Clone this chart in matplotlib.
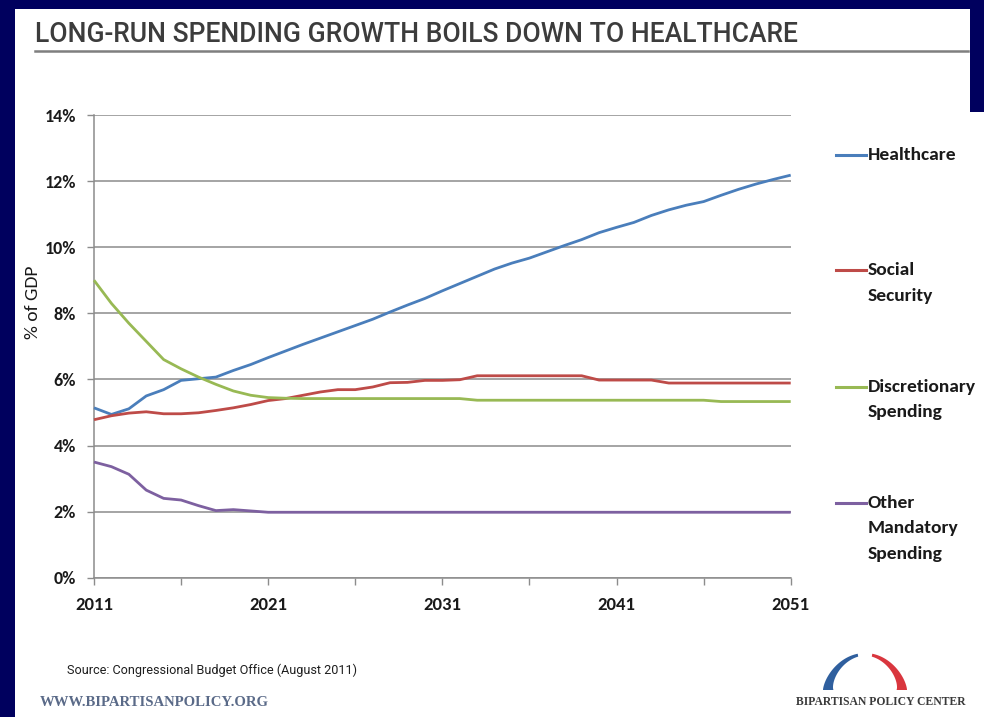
import matplotlib
matplotlib.use("Agg")
import matplotlib.pyplot as plt
from matplotlib.lines import Line2D
from matplotlib.patches import Rectangle, Polygon
from matplotlib import font_manager
import numpy as np

# ---- data (% of GDP) ----
years = list(range(2011, 2052))
healthcare = [5.14, 4.94, 5.11, 5.50, 5.69, 5.97, 6.02, 6.07, 6.27, 6.45,
              6.66, 6.86, 7.06, 7.25, 7.44, 7.63, 7.82, 8.04, 8.25, 8.45,
              8.68, 8.90, 9.12, 9.34, 9.52, 9.67, 9.86, 10.05, 10.23, 10.44,
              10.60, 10.75, 10.96, 11.13, 11.27, 11.38, 11.57, 11.75, 11.91, 12.05,
              12.18]
social_security = [4.78, 4.90, 4.98, 5.02, 4.96, 4.96, 4.99, 5.06, 5.14, 5.24,
                   5.36, 5.42, 5.52, 5.62, 5.69, 5.69, 5.77, 5.90, 5.91, 5.97,
                   5.97, 5.99, 6.11, 6.11, 6.11, 6.11, 6.11, 6.11, 6.11, 5.98,
                   5.98, 5.98, 5.98, 5.89, 5.89, 5.89, 5.89, 5.89, 5.89, 5.89,
                   5.89]
discretionary = [9.00, 8.30, 7.70, 7.15, 6.60, 6.32, 6.07, 5.85, 5.65, 5.52,
                 5.45, 5.43, 5.42, 5.42, 5.42, 5.42, 5.42, 5.42, 5.42, 5.42,
                 5.42, 5.42, 5.37, 5.37, 5.37, 5.37, 5.37, 5.37, 5.37, 5.37,
                 5.37, 5.37, 5.37, 5.37, 5.37, 5.37, 5.33, 5.33, 5.33, 5.33,
                 5.33]
other_mandatory = [3.50, 3.36, 3.13, 2.65, 2.40, 2.35, 2.18, 2.03, 2.06, 2.02,
                   1.98, 1.98, 1.98, 1.98, 1.98, 1.98, 1.98, 1.98, 1.98, 1.98,
                   1.98, 1.98, 1.98, 1.98, 1.98, 1.98, 1.98, 1.98, 1.98, 1.98,
                   1.98, 1.98, 1.98, 1.98, 1.98, 1.98, 1.98, 1.98, 1.98, 1.98,
                   1.98]

series = [healthcare, social_security, discretionary, other_mandatory]
series_names = ["Healthcare", "Social\nSecurity", "Discretionary\nSpending",
                "Other\nMandatory\nSpending"]
series_colors = ["#4A7EBB", "#BE4B48", "#98B954", "#7D60A0"]
y_ticks = [0, 2, 4, 6, 8, 10, 12, 14]
x_tick_labels = [2011, 2021, 2031, 2041, 2051]

title = "LONG-RUN SPENDING GROWTH BOILS DOWN TO HEALTHCARE"
source = "Source: Congressional Budget Office (August 2011)"


def pick(*names):
    for n in names:
        try:
            font_manager.findfont(font_manager.FontProperties(family=n),
                                  fallback_to_default=False)
            return n
        except Exception:
            continue
    return "DejaVu Sans"


BODY = pick("Carlito", "Lato", "Open Sans", "DejaVu Sans")
NARROW = pick("Liberation Sans Narrow", "Roboto", "Lato")
SERIF = pick("Liberation Serif", "DejaVu Serif")

W, H = 984, 717
fig = plt.figure(figsize=(W / 100, H / 100), dpi=100, facecolor="#00005E")


def fx(x):
    return x / W


def fy(y):
    return 1 - y / H


# white page behind everything (navy frame on the left, top and upper right)
fig.patches.append(Rectangle((fx(15), 0), (970 - 15) / W, (H - 9) / H,
                             transform=fig.transFigure, facecolor="white",
                             edgecolor="none", zorder=-5))
fig.patches.append(Rectangle((fx(969), 0), (W - 969) / W, (H - 112) / H,
                             transform=fig.transFigure, facecolor="white",
                             edgecolor="none", zorder=-5))

ax = fig.add_axes([fx(94), fy(577.7), (790.7 - 94) / W, (577.7 - 115) / H])
ax.set_facecolor("white")
ax.set_zorder(2)
ax.set_xlim(2011, 2051)
ax.set_ylim(0, 14)

for vals, col in zip(series, series_colors):
    ax.plot(years, vals, color=col, lw=2.0, solid_joinstyle="round",
            solid_capstyle="butt", zorder=3, clip_on=False)

ax.set_yticks(y_ticks)
ax.set_yticklabels([f"{v}%" for v in y_ticks], fontfamily=BODY,
                   fontweight="bold", fontsize=13, color="#1a1a1a")
xt = list(range(2011, 2052, 5))
ax.set_xticks(xt)
ax.set_xticklabels([str(v) if v in x_tick_labels else "" for v in xt],
                   fontfamily=BODY, fontweight="bold", fontsize=13.5,
                   color="#1a1a1a")
ax.yaxis.grid(True, color="#8C8C8C", lw=1.1)
ax.set_axisbelow(True)
for s in ("top", "right"):
    ax.spines[s].set_visible(False)
for s in ("left", "bottom"):
    ax.spines[s].set_color("#8C8C8C")
    ax.spines[s].set_linewidth(1.1)
ax.tick_params(axis="both", direction="out", length=5, color="#8C8C8C",
               width=1)
ax.tick_params(axis="y", pad=8)
ax.tick_params(axis="x", pad=9)

fig.text(fx(33), fy(302), "% of GDP", rotation=90, ha="center", va="center",
         fontfamily=BODY, fontsize=14, color="#1a1a1a")

# legend drawn at the right
legend_tops = [155, 270, 387, 503]
line_gap = 25.5
for name, col, yt in zip(series_names, series_colors, legend_tops):
    fig.add_artist(Line2D([fx(836), fx(866)], [fy(yt), fy(yt)], color=col,
                          lw=2.2, transform=fig.transFigure))
    for i, part in enumerate(name.split("\n")):
        fig.text(fx(868), fy(yt + i * line_gap), part, ha="left", va="center",
                 fontfamily=BODY, fontweight="bold", fontsize=14,
                 color="#1a1a1a")

renderer = fig.canvas.get_renderer()


def fit(t, target_px):
    w = t.get_window_extent(renderer).width
    t.set_fontsize(t.get_fontsize() * target_px / w)


# title and rule
tt = fig.text(fx(35), fy(34), title, ha="left", va="center",
              fontfamily=NARROW, fontweight="medium", fontsize=18,
              color="#3C3C3C")
fit(tt, 765)
fig.add_artist(Line2D([fx(35), fx(968)], [fy(51), fy(51)], color="#7F7F7F",
                      lw=1.8, transform=fig.transFigure))

# footer
st = fig.text(fx(67), fy(670), source, ha="left", va="center",
              fontfamily=NARROW, fontsize=9, color="#1E1E1E")
fit(st, 292)
wt = fig.text(fx(40), fy(702), "WWW.BIPARTISANPOLICY.ORG", ha="left",
              va="center", fontfamily=SERIF, fontweight="bold", fontsize=9,
              color="#5A6A88")
fit(wt, 230)
ct = fig.text(fx(796), fy(702), "BIPARTISAN POLICY CENTER", ha="left",
              va="center", fontfamily=SERIF, fontweight="bold", fontsize=9,
              color="#3A3A3A")
fit(ct, 169)

# arch logo
cx, cy, a, b = 865.0, 690.0, 42.0, 37.0


def arch(t0, t1, color):
    t = np.radians(np.linspace(t0, t1, 40))
    thick = 2.5 + 8 * (1 - np.sin(t)) ** 0.7
    ox = cx + a * np.cos(t)
    oy = cy - b * np.sin(t) ** 1.3
    ix = cx + (a - thick) * np.cos(t)
    iy = cy - (b - thick) * np.sin(t) ** 1.3
    xs = np.concatenate([ox, ix[::-1]])
    ys = np.concatenate([oy, iy[::-1]])
    pts = np.column_stack([fx(xs), fy(ys)])
    fig.patches.append(Polygon(pts, closed=True, transform=fig.transFigure,
                               facecolor=color, edgecolor="none"))


arch(180, 100, "#2F5F9E")
arch(80, 0, "#D9363E")

fig.savefig("out.png", dpi=100, facecolor=fig.get_facecolor())
